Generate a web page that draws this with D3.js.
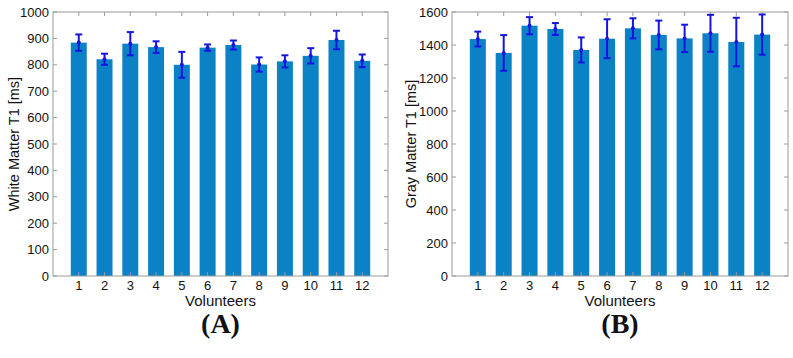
<!DOCTYPE html>
<html>
<head>
<meta charset="utf-8">
<script src="https://cdn.jsdelivr.net/npm/d3@7"></script>
<style>
	body { margin: 0; background: #fff; }
	text { font-family: Arial, "Liberation Sans", sans-serif; fill: #111; }
	.panel-label { font-family: "Times New Roman", "Liberation Serif", serif; font-weight: bold; }
</style>
</head>
<body>
<div id="chart"></div>
<script>
// ---------- DATA ----------
const volunteers = [1, 2, 3, 4, 5, 6, 7, 8, 9, 10, 11, 12];

const whiteMean = [884, 821, 880, 867, 800, 865, 875, 801, 813, 834, 894, 815];
const whiteErr = [31, 21, 44, 22, 49, 12, 17, 27, 23, 29, 35, 24];
const whiteTicks = [0, 100, 200, 300, 400, 500, 600, 700, 800, 900, 1000];

const grayMean = [1436, 1352, 1517, 1497, 1370, 1438, 1501, 1461, 1440, 1471, 1418, 1463];
const grayErr = [45, 108, 52, 36, 76, 118, 61, 87, 83, 112, 147, 122];
const grayTicks = [0, 200, 400, 600, 800, 1000, 1200, 1400, 1600];

const width = 793;
const height = 358;

const svg = d3
	.select("#chart")
	.append("svg")
	.attr("width", width)
	.attr("height", height);

const barColor = "#0b82c6";
const errColor = "#1515e0";
const axisColor = "#9a9a9a";

function drawPanel(opts) {
	const { left, right, top, bottom, means, errs, ticks, yMax, yLabel, yLabelX, panel } = opts;
	const g = svg.append("g");

	const x = d3.scaleLinear().domain([0, 13]).range([left, right]);
	const y = d3.scaleLinear().domain([0, yMax]).range([bottom, top]);
	const barW = (x(1) - x(0)) * 0.62;

	// bars
	g.selectAll(".bar")
		.data(volunteers)
		.enter()
		.append("rect")
		.attr("x", (d) => x(d) - barW / 2)
		.attr("y", (d, i) => y(means[i]))
		.attr("width", barW)
		.attr("height", (d, i) => y(0) - y(means[i]))
		.attr("fill", barColor);

	// frame
	g.append("rect")
		.attr("x", left)
		.attr("y", top)
		.attr("width", right - left)
		.attr("height", bottom - top)
		.attr("fill", "none")
		.attr("stroke", axisColor)
		.attr("stroke-width", 1);

	// y axis ticks (left + right, inward)
	ticks.forEach((t) => {
		g.append("line")
			.attr("x1", left).attr("x2", left + 4)
			.attr("y1", y(t)).attr("y2", y(t))
			.attr("stroke", axisColor);
		g.append("line")
			.attr("x1", right).attr("x2", right - 4)
			.attr("y1", y(t)).attr("y2", y(t))
			.attr("stroke", axisColor);
		g.append("text")
			.attr("x", left - 4)
			.attr("y", y(t) + 4.5)
			.attr("text-anchor", "end")
			.attr("font-size", 13)
			.text(t);
	});

	// x ticks (top + bottom, inward)
	volunteers.forEach((v) => {
		g.append("line")
			.attr("x1", x(v)).attr("x2", x(v))
			.attr("y1", top).attr("y2", top + 4)
			.attr("stroke", axisColor);
		g.append("line")
			.attr("x1", x(v)).attr("x2", x(v))
			.attr("y1", bottom).attr("y2", bottom - 4)
			.attr("stroke", axisColor);
		g.append("text")
			.attr("x", x(v))
			.attr("y", bottom + 14)
			.attr("text-anchor", "middle")
			.attr("font-size", 13)
			.text(v);
	});

	// error bars
	const eb = g.selectAll(".err").data(volunteers).enter().append("g");
	eb.append("line")
		.attr("x1", (d) => x(d)).attr("x2", (d) => x(d))
		.attr("y1", (d, i) => y(means[i] - errs[i]))
		.attr("y2", (d, i) => y(means[i] + errs[i]))
		.attr("stroke", errColor)
		.attr("stroke-width", 2);
	[-1, 1].forEach((s) => {
		eb.append("line")
			.attr("x1", (d) => x(d) - 3.5).attr("x2", (d) => x(d) + 3.5)
			.attr("y1", (d, i) => y(means[i] + s * errs[i]))
			.attr("y2", (d, i) => y(means[i] + s * errs[i]))
			.attr("stroke", errColor)
			.attr("stroke-width", 2);
	});
	eb.append("circle")
		.attr("cx", (d) => x(d))
		.attr("cy", (d, i) => y(means[i]))
		.attr("r", 2)
		.attr("fill", errColor);

	// labels
	g.append("text")
		.attr("transform", `translate(${yLabelX}, ${(top + bottom) / 2}) rotate(-90)`)
		.attr("text-anchor", "middle")
		.attr("font-size", 14.5)
		.text(yLabel);
	g.append("text")
		.attr("x", (left + right) / 2)
		.attr("y", bottom + 30)
		.attr("text-anchor", "middle")
		.attr("font-size", 15)
		.text("Volunteers");
	g.append("text")
		.classed("panel-label", true)
		.attr("x", (left + right) / 2)
		.attr("y", bottom + 57)
		.attr("text-anchor", "middle")
		.attr("font-size", 28)
		.text(panel);
}

drawPanel({
	left: 53, right: 388, top: 12, bottom: 276,
	means: whiteMean, errs: whiteErr, ticks: whiteTicks, yMax: 1000,
	yLabel: "White Matter T1 [ms]", yLabelX: 19, panel: "(A)",
});

drawPanel({
	left: 452, right: 788, top: 12, bottom: 276,
	means: grayMean, errs: grayErr, ticks: grayTicks, yMax: 1600,
	yLabel: "Gray Matter T1 [ms]", yLabelX: 416, panel: "(B)",
});
</script>
</body>
</html>
